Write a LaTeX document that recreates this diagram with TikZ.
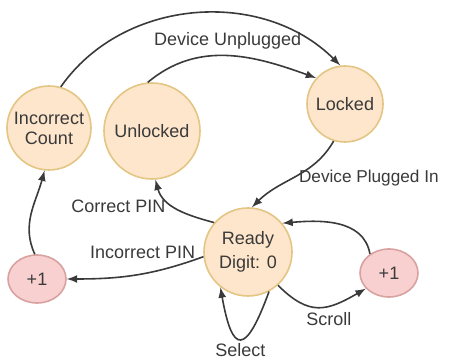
\documentclass[tikz,border=0pt]{standalone}
\usepackage{fontspec}
\setmainfont{Liberation Sans}
\usetikzlibrary{arrows,shapes.geometric}
\definecolor{stateFill}{HTML}{FDE6CC}
\definecolor{stateLine}{HTML}{E3C584}
\definecolor{countFill}{HTML}{F8D0CF}
\definecolor{countLine}{HTML}{D8A2A0}
\definecolor{inkGray}{HTML}{3A3A3A}

\begin{document}
\begin{tikzpicture}[x=0.5pt,y=0.5pt,>=latex,
  font=\fontsize{9}{11}\selectfont,text=inkGray,
  state/.style={circle,draw=stateLine,fill=stateFill,line width=0.8pt,inner sep=0pt,align=center},
  counter/.style={ellipse,draw=countLine,fill=countFill,line width=0.8pt,inner sep=0pt,minimum width=29pt,minimum height=24pt},
  trans/.style={->,draw=inkGray,line width=0.8pt},
  lbl/.style={inner sep=2pt}]
\useasboundingbox (0,0) rectangle (456,363);

\node[state,minimum size=42pt] (inc) at (49,235) {Incorrect\\[-1pt]Count};
\node[state,minimum size=48pt] (unl) at (152,232) {Unlocked};
\node[state,minimum size=38pt] (lock) at (345,259) {Locked};
\node[state,minimum size=44pt] (ready) at (248,111) {Ready\\[1pt]Digit: 0};
\node[counter] (pl) at (37,84) {+1};
\node[counter] (pr) at (389,90) {+1};

\path (inc.74) edge[trans,out=55,in=135] (lock.97);
\path (unl.95) edge[trans,out=40,in=160] node[lbl,pos=.5,above=1pt] {Device Unplugged} (lock.138);
\path (lock.-107) edge[trans,out=-120,in=45] node[lbl,pos=.52,right=0pt,anchor=west,font=\fontsize{8.6}{10}\selectfont] {Device Plugged In} (ready.85);
\path (ready.139) edge[trans,out=165,in=-75] node[lbl,pos=.55,left=2pt] {Correct PIN} (unl.-86);
\path (ready.186) edge[trans,out=200,in=0] node[lbl,pos=.45,above=5pt] {Incorrect PIN} (pl.0);
\path (pl.95) edge[trans,out=115,in=-105] (inc.-96);
\path (ready.-48) edge[trans,out=-45,in=210,looseness=1.3] node[lbl,pos=.62,below=1pt] {Scroll} (pr.214);
\path (pr.135) edge[trans,out=100,in=5] (ready.40);
\path (ready.-62) edge[trans,out=-110,in=-80,looseness=3.6] node[lbl,pos=.5,below=0pt] {Select} (ready.-128);
\end{tikzpicture}
\end{document}
